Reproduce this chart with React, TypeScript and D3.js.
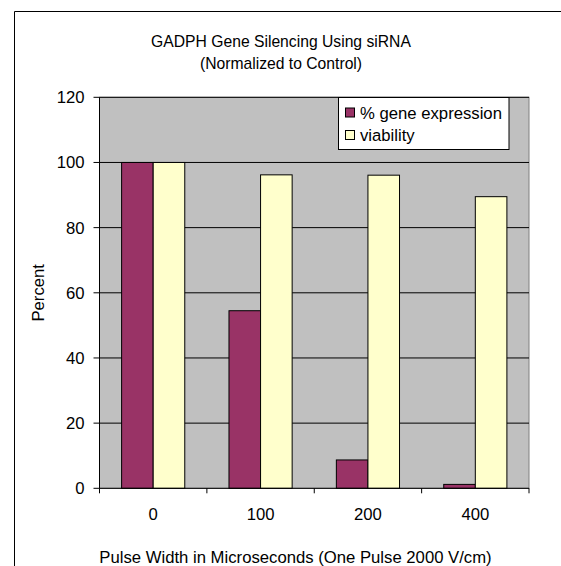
import React from "react";
import * as d3 from "d3";

const categories = ["0", "100", "200", "400"];
const geneExpression = [100, 54.5, 8.7, 1.2];
const viability = [100, 96.2, 96.1, 89.5];
const yTicks = [0, 20, 40, 60, 80, 100, 120];
const seriesNames = ["% gene expression", "viability"];

const W = 561;
const H = 566;
const FONT = "'Liberation Sans', Arial, sans-serif";
const AX = 16.7;

export default function App() {
  const left = 99.5;
  const right = 529;
  const top = 97.3;
  const bottom = 488.3;

  const x = d3.scaleBand<string>().domain(categories).range([left, right]);
  const y = d3.scaleLinear().domain([0, 120]).range([bottom, top]);
  const barW = x.bandwidth() / 3.4;

  const series = [
    { name: seriesNames[0], values: geneExpression, fill: "#993366" },
    { name: seriesNames[1], values: viability, fill: "#FFFFCC" },
  ];

  return (
    <svg
      width={W}
      height={H}
      style={{ position: "absolute", left: 0, top: 0, background: "#fff" }}
      fontFamily={FONT}
    >
      <path d={`M14.5,${H} V11.5 H${W}`} fill="none" stroke="#000" strokeWidth={1} />
      <text x={281} y={47} textAnchor="middle" fontSize={15.7} fill="#000">
        GADPH Gene Silencing Using siRNA
      </text>
      <text x={281} y={68.5} textAnchor="middle" fontSize={15.7} fill="#000">
        (Normalized to Control)
      </text>

      <rect x={left} y={top} width={right - left} height={bottom - top} fill="#C0C0C0" stroke="#808080" strokeWidth={1} />
      {yTicks.slice(1).map((t) => (
        <line key={"g" + t} x1={left} x2={right} y1={y(t)} y2={y(t)} stroke="#000" strokeWidth={1} />
      ))}

      {categories.map((c, i) =>
        series.map((s, j) => {
          const bx = (x(c) as number) + (x.bandwidth() - 2 * barW) / 2 + j * barW;
          const v = s.values[i];
          return (
            <rect
              key={c + s.name}
              x={bx}
              y={y(v)}
              width={barW}
              height={bottom - y(v)}
              fill={s.fill}
              stroke="#000"
              strokeWidth={1}
            />
          );
        })
      )}

      {/* axes */}
      <line x1={left} x2={left} y1={top} y2={bottom} stroke="#000" strokeWidth={1} />
      <line x1={left} x2={right} y1={bottom} y2={bottom} stroke="#000" strokeWidth={1} />
      {yTicks.map((t) => (
        <g key={"y" + t}>
          <line x1={left - 6} x2={left} y1={y(t)} y2={y(t)} stroke="#000" />
          <text x={left - 15} y={y(t) + 6} textAnchor="end" fontSize={AX} fill="#000">
            {t}
          </text>
        </g>
      ))}
      {[...categories.map((c) => x(c) as number), right].map((tx, i) => (
        <line key={"xt" + i} x1={tx} x2={tx} y1={bottom} y2={bottom + 5} stroke="#000" />
      ))}
      {categories.map((c) => (
        <text
          key={"xl" + c}
          x={(x(c) as number) + x.bandwidth() / 2}
          y={520}
          textAnchor="middle"
          fontSize={AX}
          fill="#000"
        >
          {c}
        </text>
      ))}
      <text x={295.5} y={562.5} textAnchor="middle" fontSize={AX} fill="#000">
        Pulse Width in Microseconds (One Pulse 2000 V/cm)
      </text>
      <text
        transform={`translate(44,${(top + bottom) / 2}) rotate(-90)`}
        textAnchor="middle"
        fontSize={AX}
        fill="#000"
      >
        Percent
      </text>

      {/* legend */}
      <rect x={338.5} y={97.5} width={170.5} height={52} fill="#fff" stroke="#000" strokeWidth={1} />
      {series.map((s, j) => (
        <g key={"lg" + s.name}>
          <rect x={345.5} y={108 + j * 22.5} width={9} height={9} fill={s.fill} stroke="#000" strokeWidth={1} />
          <text x={360} y={118.5 + j * 22.5} fontSize={AX} fill="#000">
            {s.name}
          </text>
        </g>
      ))}
    </svg>
  );
}
